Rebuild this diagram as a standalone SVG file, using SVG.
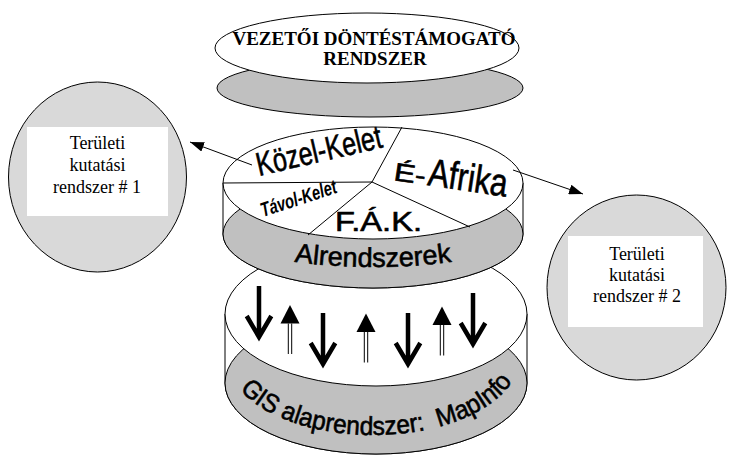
<svg xmlns="http://www.w3.org/2000/svg" width="733" height="458" viewBox="0 0 733 458">
<style>
.face{fill:#fff;stroke:#000;stroke-width:1}
.band{fill:#c0c0c0;stroke:#000;stroke-width:1}
.circ{fill:#d9d9d9;stroke:#000;stroke-width:1}
.box{fill:#fff;stroke:none}
.serif{font-family:"Liberation Serif","Times New Roman",serif;fill:#000}
.sans{font-family:"Liberation Sans",Arial,sans-serif;fill:#000}
.heavy{stroke:#000;stroke-width:0.6}
.pie{fill:none;stroke:#000;stroke-width:1}
.conn{fill:none;stroke:#000;stroke-width:1}
.dn{fill:none;stroke:#000;stroke-width:4.5;stroke-linejoin:miter;stroke-miterlimit:10}
.upshaft{fill:none;stroke:#000;stroke-width:1}
</style>
<defs>
<marker id="ah" markerUnits="userSpaceOnUse" markerWidth="14" markerHeight="10" refX="14" refY="5" orient="auto">
<path d="M0,0 L14,5 L0,10 Z" fill="#000"/>
</marker>
<g id="dnArrow"><path class="dn" d="M0,0 V50 M-12.3,30 L0,51 L12.3,30"/></g>
<g id="upArrow"><polygon points="0,0 -9.5,18.5 9.5,18.5" fill="#000"/><path class="upshaft" d="M-1.7,18.5 V49 M1.7,18.5 V49"/></g>
<path id="alArc" d="M223,231 A150,36 0 0 0 523,231"/>
<path id="gisArc" d="M227,358 A146,77 0 0 0 519,358"/>
</defs>

<g id="vezetoi-dontestamogato-rendszer">
<ellipse class="band" cx="370" cy="88" rx="153" ry="29"/>
<ellipse class="face" cx="367" cy="48" rx="152" ry="35"/>
<text class="serif" x="374" y="45" font-size="19" font-weight="bold" text-anchor="middle">VEZETŐI DÖNTÉSTÁMOGATÓ</text>
<text class="serif" x="375" y="65" font-size="19" font-weight="bold" text-anchor="middle">RENDSZER</text>
</g>

<g id="gis-alaprendszer">
<path class="face" d="M225,314 V383 A151,71 0 0 0 527,383 V314 Z"/>
<ellipse class="band" cx="376" cy="383" rx="151" ry="71"/>
<ellipse class="face" cx="376" cy="314" rx="151" ry="72"/>
<use href="#dnArrow" x="259" y="286"/>
<use href="#upArrow" x="290" y="305"/>
<use href="#dnArrow" x="323" y="313"/>
<use href="#upArrow" x="366" y="313.5"/>
<use href="#dnArrow" x="408" y="313"/>
<use href="#upArrow" x="442" y="306.5"/>
<use href="#dnArrow" x="473" y="293"/>
<text class="sans heavy" font-size="26" xml:space="preserve"><textPath href="#gisArc" startOffset="35" textLength="299" lengthAdjust="spacingAndGlyphs">GIS alaprendszer:  MapInfo</textPath></text>
</g>

<g id="alrendszerek">
<path class="face" d="M223,183 V234 A150,54 0 0 0 523,234 V183 Z"/>
<ellipse class="band" cx="373" cy="234" rx="150" ry="54"/>
<ellipse class="face" cx="373" cy="183" rx="150" ry="56"/>
<path class="pie" d="M372,182 L402,127 M372,182 L223,183 M372,182 L308,235 M372,182 L470,227"/>
<text class="sans heavy" font-size="27" text-anchor="middle"><textPath href="#alArc" startOffset="50%">Alrendszerek</textPath></text>
</g>

<g id="kozel-kelet">
<text class="sans heavy" x="259" y="176" font-size="33" textLength="128" lengthAdjust="spacingAndGlyphs" transform="rotate(-13 259 176)">Közel-Kelet</text>
</g>
<g id="e-afrika">
<text class="sans heavy" transform="rotate(8.5 393 180)"><tspan x="393" y="180" font-size="25" textLength="32" lengthAdjust="spacingAndGlyphs">É-</tspan><tspan x="427" y="180" font-size="39" textLength="80" lengthAdjust="spacingAndGlyphs">Afrika</tspan></text>
</g>
<g id="tavol-kelet">
<text class="sans" x="263" y="217" font-size="20" font-weight="bold" font-style="italic" textLength="79" lengthAdjust="spacingAndGlyphs" transform="rotate(-18 263 217)">Távol-Kelet</text>
</g>
<g id="fak">
<text class="sans heavy" x="335" y="231" font-size="27" textLength="87" lengthAdjust="spacingAndGlyphs">F.Á.K.</text>
</g>

<g id="teruleti-1">
<ellipse class="circ" cx="97.5" cy="177" rx="89" ry="95"/>
<rect class="box" x="27" y="127" width="141" height="89"/>
<text class="serif" font-size="18" text-anchor="middle"><tspan x="97.5" y="149">Területi</tspan><tspan x="97.5" y="170.5">kutatási</tspan><tspan x="97" y="192.5">rendszer # 1</tspan></text>
</g>

<g id="teruleti-2">
<ellipse class="circ" cx="636.5" cy="287.5" rx="89.5" ry="92.5"/>
<rect class="box" x="568" y="236" width="135" height="91"/>
<text class="serif" font-size="18" text-anchor="middle"><tspan x="637" y="259.5">Területi</tspan><tspan x="637" y="281">kutatási</tspan><tspan x="637" y="302">rendszer # 2</tspan></text>
</g>

<g id="connectors">
<line class="conn" x1="252" y1="165" x2="190" y2="142" marker-end="url(#ah)"/>
<line class="conn" x1="513" y1="170" x2="583" y2="194" marker-end="url(#ah)"/>
</g>
</svg>
